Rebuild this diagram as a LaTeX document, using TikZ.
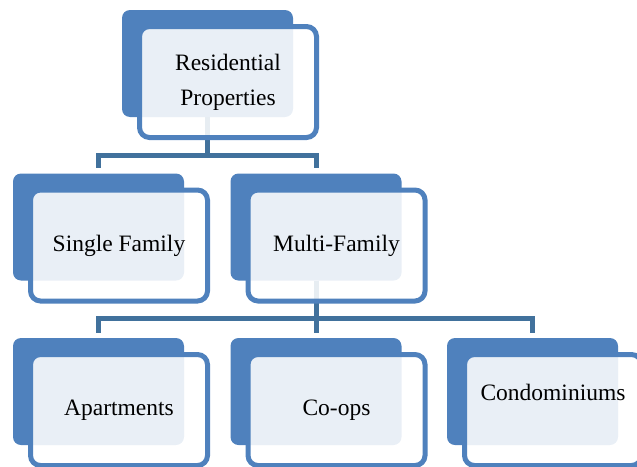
\documentclass[tikz,border=0pt]{standalone}
\usepackage{fontspec}
\setmainfont{Liberation Serif}
\usepackage{tikz}
\definecolor{boxblue}{HTML}{4F81BD}
\definecolor{linkblue}{HTML}{41719C}

\begin{document}
\begin{tikzpicture}[x=1pt,y=-1pt,font=\fontsize{23.5}{35}\selectfont,
  backbox/.style={fill=boxblue,rounded corners=8pt,inner sep=0pt,
    minimum width=171pt,minimum height=107pt},
  frontbox/.style={draw=boxblue,line width=5pt,fill=white,fill opacity=0.88,
    text opacity=1,rounded corners=10pt,inner sep=0pt,align=center,
    minimum width=177pt,minimum height=111pt,xshift=20.5pt,yshift=-18.5pt},
  link/.style={draw=linkblue,line width=5pt,shorten >=5pt}]
\useasboundingbox (0,0) rectangle (637,466);
\clip (0,0) rectangle (637,466);
% dark boxes behind
\node[backbox] (resb) at (207.5,63.5) {};
\node[backbox] (sfb) at (98.5,227) {};
\node[backbox] (mfb) at (316,227) {};
\node[backbox] (aptb) at (98.5,391.5) {};
\node[backbox] (coopb) at (316,391.5) {};
\node[backbox] (condob) at (532.5,391.5) {};
% connectors
\foreach \c in {sfb,mfb}
  \draw[link] (resb.south) -- ++(0,38) -| (\c.north);
\foreach \c in {aptb,coopb,condob}
  \draw[link] (mfb.south) -- ++(0,37.5) -| (\c.north);
% front boxes
\node[frontbox] (res) at (resb) {Residential\\Properties};
\node[frontbox] (sf) at (sfb) {Single Family};
\node[frontbox] (mf) at (mfb) {Multi-Family};
\node[frontbox] (apt) at (aptb) {Apartments};
\node[frontbox] (coop) at (coopb) {Co-ops};
\node[frontbox] (condo) at (condob) {Condominiums\\\mbox{}};
\end{tikzpicture}
\end{document}
